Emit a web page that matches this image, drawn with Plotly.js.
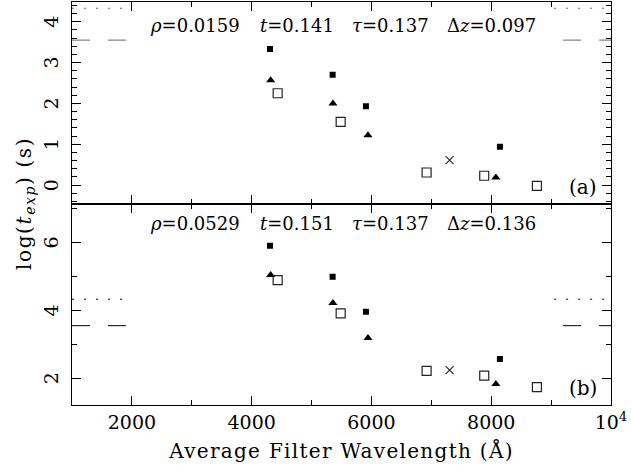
<!DOCTYPE html>
<html>
<head>
<meta charset="utf-8">
<script src="https://cdn.plot.ly/plotly-3.0.1.min.js"></script>
<style>
body{margin:0;padding:0;background:#fff;}
.xtitle{letter-spacing:1.3px;}
.ylabtitle text{letter-spacing:1.6px;}
</style>
</head>
<body>
<div id="chart" style="width:631px;height:472px;"></div>
<script>
// ---- data ----
const xFilled = [4306, 5352, 5908, 8145];
const xTri = [4317, 5357, 5942, 8078];
const xOpen = [4434, 5486, 6921, 7883, 8763];
const xCross = [7305];

const yFilledA = [3.33, 2.70, 1.93, 0.94];
const yTriA = [2.57, 2.00, 1.22, 0.19];
const yOpenA = [2.25, 1.55, 0.31, 0.23, -0.02];
const yCrossA = [0.61];

const yFilledB = [5.90, 4.99, 3.96, 2.57];
const yTriB = [5.04, 4.22, 3.19, 1.83];
const yOpenB = [4.89, 3.91, 2.22, 2.08, 1.74];
const yCrossB = [2.24];

const xDotted = [1000, 1900, null, 9050, 10000];
const xDashed = [1000, 1900, null, 9200, 10000];
const yDottedLevel = 4.33;
const yDashedLevel = 3.55;

const xTickVals = [2000, 4000, 6000, 8000, 10000];
const xTickText = ['2000', '4000', '6000', '8000', '10<sup>4</sup>'];
const xMinorVals = [1000, 3000, 5000, 7000, 9000];
const yTickValsA = [0, 1, 2, 3, 4];
const yTickValsB = [2, 4, 6];

const labelsA = ['<i>ρ</i>=0.0159', '<i>t</i>=0.141', '<i>τ</i>=0.137', 'Δ<i>z</i>=0.097'];
const labelsB = ['<i>ρ</i>=0.0529', '<i>t</i>=0.151', '<i>τ</i>=0.137', 'Δ<i>z</i>=0.136'];
const labelPos = [0.141, 0.345, 0.516, 0.692];

const FONT = 'DejaVu Serif, serif';

function level(xs, v) { return xs.map(x => x === null ? null : v); }

function panel(xa, ya, yF, yT, yO, yC, lineColor) {
  return [
    {x: xDotted, y: level(xDotted, yDottedLevel), xaxis: xa, yaxis: ya, mode: 'lines',
     line: {color: lineColor, width: 1, dash: '2px,10px'}, connectgaps: false, hoverinfo: 'skip'},
    {x: xDashed, y: level(xDashed, yDashedLevel), xaxis: xa, yaxis: ya, mode: 'lines',
     line: {color: lineColor, width: 1, dash: '18px,18px'}, connectgaps: false, hoverinfo: 'skip'},
    {x: xFilled, y: yF, xaxis: xa, yaxis: ya, mode: 'markers',
     marker: {symbol: 'square', size: 6, color: '#000'}},
    {x: xTri, y: yT, xaxis: xa, yaxis: ya, mode: 'markers',
     marker: {symbol: 'triangle-up', size: 8, color: '#000'}},
    {x: xOpen, y: yO, xaxis: xa, yaxis: ya, mode: 'markers',
     marker: {symbol: 'square-open', size: 9, color: '#222', line: {width: 1.2}}},
    {x: xCross, y: yC, xaxis: xa, yaxis: ya, mode: 'markers',
     marker: {symbol: 'x-thin-open', size: 8, color: '#222', line: {width: 1.1}}}
  ];
}

const data = [].concat(
  panel('x2', 'y2', yFilledA, yTriA, yOpenA, yCrossA, '#666'),
  panel('x', 'y', yFilledB, yTriB, yOpenB, yCrossB, '#000')
);

const tickFont = {family: FONT, size: 19, color: '#000'};
const xCommon = {
  range: [1000, 10000], tickmode: 'array', tickvals: xTickVals, ticktext: xTickText,
  ticks: 'inside', ticklen: 9, tickwidth: 1, tickcolor: '#000',
  showline: true, linecolor: '#000', linewidth: 1, mirror: 'ticks',
  showgrid: false, zeroline: false, tickfont: tickFont,
  minor: {tickmode: 'array', tickvals: xMinorVals, ticks: 'inside', ticklen: 5, tickcolor: '#000', showgrid: false}
};

const annotations = [];
labelsA.forEach((t, i) => annotations.push({
  text: t, xref: 'paper', yref: 'y2', x: labelPos[i], y: 3.92, xanchor: 'left', yanchor: 'middle',
  showarrow: false, font: {family: FONT, size: 18, color: '#000'}
}));
labelsB.forEach((t, i) => annotations.push({
  text: t, xref: 'paper', yref: 'y', x: labelPos[i], y: 6.56, xanchor: 'left', yanchor: 'middle',
  showarrow: false, font: {family: FONT, size: 18, color: '#000'}
}));
annotations.push({text: '(a)', xref: 'paper', yref: 'y2', x: 0.978, y: -0.05, xanchor: 'right', yanchor: 'middle',
  showarrow: false, font: {family: FONT, size: 20, color: '#000'}});
annotations.push({text: '(b)', xref: 'paper', yref: 'y', x: 0.978, y: 1.72, xanchor: 'right', yanchor: 'middle',
  showarrow: false, font: {family: FONT, size: 20, color: '#000'}});
// rotated y tick labels (the reference draws them turned by 90 degrees)
yTickValsA.forEach(v => annotations.push({
  text: String(v), xref: 'paper', yref: 'y2', x: -0.039, y: v, xanchor: 'center', yanchor: 'middle',
  textangle: -90, showarrow: false, font: tickFont
}));
yTickValsB.forEach(v => annotations.push({
  text: String(v), xref: 'paper', yref: 'y', x: -0.039, y: v, xanchor: 'center', yanchor: 'middle',
  textangle: -90, showarrow: false, font: tickFont
}));
annotations.push({text: 'log(<i>t</i><sub><i>exp</i></sub>) (s)', xref: 'paper', yref: 'paper',
  x: -0.089, y: 0.5, xanchor: 'center', yanchor: 'middle', textangle: -90,
  showarrow: false, font: {family: FONT, size: 20, color: '#000'}});

const layout = {
  width: 631, height: 472,
  margin: {l: 72, r: 20, t: 2, b: 67},
  paper_bgcolor: '#fff', plot_bgcolor: '#fff',
  showlegend: false,
  font: {family: FONT, color: '#000'},
  xaxis: Object.assign({}, xCommon, {
    anchor: 'y', domain: [0, 1],
    title: {text: 'Average Filter Wavelength (Å)', font: {family: FONT, size: 20, color: '#000'}, standoff: 12}
  }),
  xaxis2: Object.assign({}, xCommon, {anchor: 'y2', matches: 'x', showticklabels: false}),
  yaxis: {
    domain: [0, 0.5], anchor: 'x', range: [1.215, 7.147],
    tickmode: 'linear', tick0: 0, dtick: 2, ticks: 'inside', ticklen: 9, tickcolor: '#000',
    minor: {dtick: 1, tick0: 0, ticks: 'inside', ticklen: 5, tickcolor: '#000', showgrid: false},
    showline: true, linecolor: '#000', linewidth: 1, mirror: 'ticks',
    showgrid: false, zeroline: false, showticklabels: false
  },
  yaxis2: {
    domain: [0.5, 1], anchor: 'x2', range: [-0.449, 4.483],
    tickmode: 'linear', tick0: 0, dtick: 1, ticks: 'inside', ticklen: 9, tickcolor: '#000',
    minor: {dtick: 0.2, tick0: 0, ticks: 'inside', ticklen: 5, tickcolor: '#000', showgrid: false},
    showline: true, linecolor: '#000', linewidth: 1, mirror: 'ticks',
    showgrid: false, zeroline: false, showticklabels: false
  },
  annotations: annotations
};

Plotly.newPlot('chart', data, layout, {staticPlot: true, displayModeBar: false}).then(gd => {
  const anns = gd.querySelectorAll('.annotation');
  const last = anns[anns.length - 1];
  if (last) last.classList.add('ylabtitle');
});
</script>
</body>
</html>
